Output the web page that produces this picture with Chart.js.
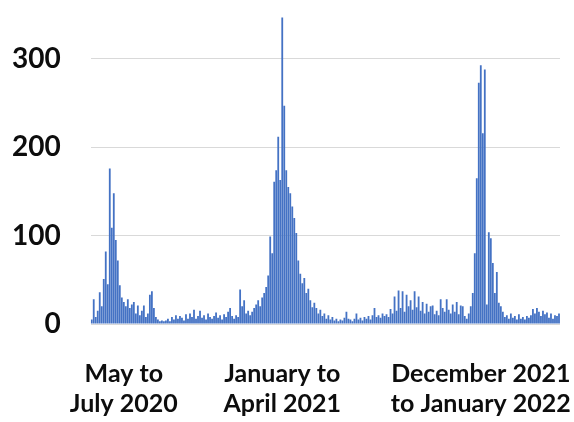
<!DOCTYPE html>
<html>
<head>
<meta charset="utf-8">
<script src="https://cdn.jsdelivr.net/npm/chart.js@4/dist/chart.umd.min.js"></script>
<style>
  body { margin: 0; background: #fff; }
</style>
</head>
<body>
<canvas id="cases" width="574" height="422"></canvas>
<script>
// daily counts (roughly two days per value)
const wave2020 = [
  5, 28, 8, 15, 36, 20, 51, 82, 45, 176, 109, 148, 95, 72, 44, 30, 25, 20, 28, 18,
  22, 25, 12, 21, 10, 15, 21, 8, 12, 33, 37, 18, 8, 5, 3, 4, 3,
];
const lull2020 = [
  4, 6, 3, 8, 5, 10, 6, 9, 7, 4, 11, 6, 12, 8, 16, 6, 9, 15, 7, 10,
  5, 12, 8, 6, 9, 13, 7, 10, 5, 11, 8, 14, 18, 9, 6, 10, 8, 39, 20, 27,
  12, 15, 10, 14,
];
const wave2021 = [
  18, 22, 27, 20, 30, 35, 42, 55, 99, 80, 161, 174, 212, 163, 347, 247, 174, 155, 148, 133,
  120, 103, 72, 57, 46, 52, 35, 40, 27, 19, 24, 18, 12, 16, 9, 12, 6, 10, 5, 8,
  4, 6, 3, 5, 4, 7, 14, 6,
];
const lull2021 = [
  5, 3, 6, 12, 5, 7, 4, 8, 6, 9, 5, 10, 18, 8, 10, 7, 12, 9, 11, 8,
  17, 12, 31, 15, 38, 18, 37, 14, 33, 20, 27, 16, 37, 19, 31, 15, 25, 12, 23, 14,
  20, 21, 11, 15, 10, 28, 18, 14, 28, 16, 12, 22, 14, 25, 11, 21, 20, 9, 6, 12,
];
const wave2022 = [
  20, 35, 80, 165, 273, 293, 216, 288, 22, 104, 97, 69, 35, 59, 24, 20, 14, 8, 10, 6,
  12, 7, 9, 5, 11, 6, 8, 5, 9, 7, 10, 17, 12, 18, 14, 9, 15, 11, 13, 7,
  12, 6, 10, 9, 12,
];

const counts = [...wave2020, ...lull2020, ...wave2021, ...lull2021, ...wave2022];
const days = counts.map((_, i) => i);

const periodIndex = [16, 95, 194];
const periodLabels = [
  ["May to", "July 2020"],
  ["January to", "April 2021"],
  ["December 2021", "to January 2022"],
];

const yTicks = [0, 100, 200, 300];

const Config = {
  colors: {
    bar: "#4472c4",
    grid: "#d9d9d9",
    text: "#0d0d0d",
  },
  font: "Lato, 'Open Sans', sans-serif",
};

// keep tick labels from pushing the plot area inwards,
// and count the tick padding only once in the axis size
const tightAxis = (axis) => {
  axis.paddingTop = 0;
  axis.paddingBottom = 0;
  axis.paddingLeft = 0;
  axis.paddingRight = 0;
  const pad = axis.options.ticks.padding;
  if (axis.isHorizontal()) axis.height -= pad;
  else axis.width -= pad;
};

new Chart(document.getElementById("cases"), {
  type: "bar",
  data: {
    labels: days,
    datasets: [
      {
        data: counts,
        backgroundColor: Config.colors.bar,
        barPercentage: 0.9,
        categoryPercentage: 1,
      },
    ],
  },
  options: {
    responsive: false,
    animation: false,
    layout: {
      padding: { top: 6, right: 14, bottom: 3, left: 12 },
    },
    plugins: {
      legend: { display: false },
      tooltip: { enabled: false },
    },
    scales: {
      x: {
        afterFit: tightAxis,
        grid: { display: false, drawTicks: false },
        border: { display: false },
        ticks: {
          autoSkip: false,
          maxRotation: 0,
          minRotation: 0,
          padding: 35,
          color: Config.colors.text,
          font: { family: Config.font, size: 25, weight: "bold", lineHeight: 1.2 },
          callback: (value, index) => {
            const k = periodIndex.indexOf(index);
            return k >= 0 ? periodLabels[k] : "";
          },
        },
      },
      y: {
        min: 0,
        max: 360,
        afterBuildTicks: (axis) => {
          axis.ticks = yTicks.map((v) => ({ value: v }));
        },
        afterFit: tightAxis,
        grid: {
          color: Config.colors.grid,
          drawTicks: false,
        },
        border: { display: false },
        ticks: {
          padding: 30,
          color: Config.colors.text,
          font: { family: Config.font, size: 28, weight: "bold" },
        },
      },
    },
  },
});
</script>
</body>
</html>
